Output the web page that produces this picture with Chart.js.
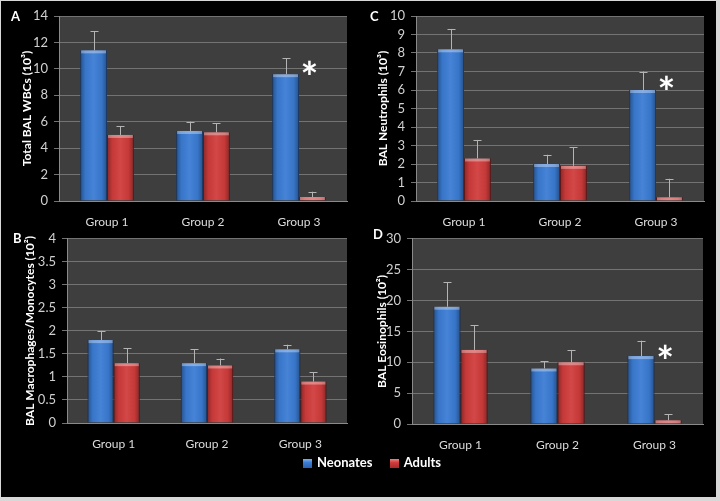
<!DOCTYPE html>
<html>
<head>
<meta charset="utf-8">
<script src="https://cdn.jsdelivr.net/npm/chart.js@4.4.1/dist/chart.umd.min.js"></script>
<style>
    body { margin: 0; background: #d8d8d8; width: 720px; height: 501px; overflow: hidden; }
    #frame { position: absolute; left: 1px; top: 1px; width: 715px; height: 496px; background: #000; }
    .panel { position: absolute; }
    .panel canvas { display: block; }
    .tag { position: absolute; color: #fff; font: bold 13px Lato, sans-serif; }
    #legend { position: absolute; left: 303px; top: 454px; color: #fff; font: bold 13px Lato, sans-serif; white-space: nowrap; }
    #legend .box { display: inline-block; width: 9px; height: 9px; margin-right: 5px; vertical-align: -1px; }
    #legend .item { margin-right: 14px; }
</style>
</head>
<body>
<div id="frame"></div>
<div class="panel" style="left:0;top:0"><canvas id="chartA" width="360" height="228"></canvas><span class="tag" style="left:11px;top:8px">A</span></div>
<div class="panel" style="left:360px;top:0"><canvas id="chartC" width="360" height="228"></canvas><span class="tag" style="left:10px;top:8px">C</span></div>
<div class="panel" style="left:0;top:225px"><canvas id="chartB" width="360" height="230"></canvas><span class="tag" style="left:13px;top:5px">B</span></div>
<div class="panel" style="left:360px;top:225px"><canvas id="chartD" width="360" height="230"></canvas><span class="tag" style="left:13px;top:1px">D</span></div>
<div id="legend">
    <span class="item"><span class="box" style="background:linear-gradient(#7fb0f0,#3b7cd4 40%,#2d62ad)"></span>Neonates</span>
    <span class="item"><span class="box" style="background:linear-gradient(#f08080,#d03c3c 40%,#a82a2a)"></span>Adults</span>
</div>
<script>
document.addEventListener('DOMContentLoaded', function() {
    let groups = ['Group 1', 'Group 2', 'Group 3'];
    let seriesNames = ['Neonates', 'Adults'];

    // A: total WBCs (10^3)
    let wbcNeonates = [11.4, 5.3, 9.6];
    let wbcNeonatesErr = [1.45, 0.7, 1.2];
    let wbcAdults = [5.0, 5.2, 0.3];
    let wbcAdultsErr = [0.65, 0.7, 0.4];
    let wbcStar = [null, null, 10.1];

    // C: neutrophils (10^3)
    let neutNeonates = [8.2, 2.0, 6.0];
    let neutNeonatesErr = [1.1, 0.5, 1.0];
    let neutAdults = [2.3, 1.9, 0.2];
    let neutAdultsErr = [1.0, 1.0, 1.0];
    let neutStar = [null, null, 6.4];

    // B: macrophages/monocytes (10^2)
    let macNeonates = [1.8, 1.3, 1.6];
    let macNeonatesErr = [0.2, 0.3, 0.1];
    let macAdults = [1.3, 1.25, 0.9];
    let macAdultsErr = [0.32, 0.15, 0.2];
    let macStar = [null, null, null];

    // D: eosinophils (10^2)
    let eosNeonates = [19, 9, 11];
    let eosNeonatesErr = [4, 1.2, 2.5];
    let eosAdults = [12, 10, 0.6];
    let eosAdultsErr = [4, 2, 1.0];
    let eosStar = [null, null, 11.8];

    let blue = '#3b7cd4';
    let red = '#d03c3c';

    let plotBackground = {
        id: 'plotBackground',
        beforeDraw: function(chart) {
            let a = chart.chartArea;
            let ctx = chart.ctx;
            ctx.save();
            ctx.fillStyle = '#3e3e3e';
            ctx.fillRect(a.left, a.top, a.right - a.left, a.bottom - a.top);
            ctx.restore();
        }
    };

    // shading on the bars, then error whiskers and the asterisk
    let barExtras = {
        id: 'barExtras',
        afterDatasetsDraw: function(chart) {
            let ctx = chart.ctx;
            let yScale = chart.scales.y;
            ctx.save();
            chart.data.datasets.forEach(function(ds, di) {
                let meta = chart.getDatasetMeta(di);
                meta.data.forEach(function(bar, i) {
                    let x0 = bar.x - bar.width / 2;
                    let h = bar.base - bar.y;
                    let g = ctx.createLinearGradient(x0, 0, x0 + bar.width, 0);
                    g.addColorStop(0, 'rgba(0,0,0,0.35)');
                    g.addColorStop(0.2, 'rgba(0,0,0,0.05)');
                    g.addColorStop(0.5, 'rgba(255,255,255,0.06)');
                    g.addColorStop(0.8, 'rgba(0,0,0,0.05)');
                    g.addColorStop(1, 'rgba(0,0,0,0.35)');
                    ctx.fillStyle = g;
                    ctx.fillRect(x0, bar.y, bar.width, h);
                    if (h > 3) {
                        ctx.fillStyle = 'rgba(255,255,255,0.35)';
                        ctx.fillRect(x0 + 1, bar.y, bar.width - 2, 3);
                    }

                    let top = yScale.getPixelForValue(ds.data[i] + ds.errors[i]);
                    ctx.strokeStyle = '#b4b4b4';
                    ctx.lineWidth = 1;
                    ctx.beginPath();
                    ctx.moveTo(Math.round(bar.x) + 0.5, bar.y);
                    ctx.lineTo(Math.round(bar.x) + 0.5, top);
                    ctx.moveTo(Math.round(bar.x) - 3.5, Math.round(top) + 0.5);
                    ctx.lineTo(Math.round(bar.x) + 4.5, Math.round(top) + 0.5);
                    ctx.stroke();
                });
            });
            let stars = chart.options.plugins.barExtras.stars;
            let adultsMeta = chart.getDatasetMeta(1);
            ctx.fillStyle = '#ffffff';
            ctx.font = 'bold 42px Lato, sans-serif';
            ctx.textAlign = 'center';
            ctx.textBaseline = 'alphabetic';
            stars.forEach(function(v, i) {
                if (v === null) return;
                let m = ctx.measureText('*');
                let cy = yScale.getPixelForValue(v);
                let shift = (m.actualBoundingBoxAscent - m.actualBoundingBoxDescent) / 2;
                ctx.fillText('*', adultsMeta.data[i].x - 3, cy + shift);
            });
            ctx.restore();
        }
    };

    function makeChart(id, cfg) {
        let ctx = document.getElementById(id).getContext('2d');
        let canvas = document.getElementById(id);
        return new Chart(ctx, {
            type: 'bar',
            data: {
                labels: groups,
                datasets: [{
                    label: seriesNames[0],
                    data: cfg.neonates,
                    errors: cfg.neonatesErr,
                    backgroundColor: blue,
                    borderColor: '#2a5694',
                    borderWidth: { left: 1, right: 1, top: 0, bottom: 0 },
                    categoryPercentage: 0.56,
                    barPercentage: 1.0
                }, {
                    label: seriesNames[1],
                    data: cfg.adults,
                    errors: cfg.adultsErr,
                    backgroundColor: red,
                    borderColor: '#902222',
                    borderWidth: { left: 1, right: 1, top: 0, bottom: 0 },
                    categoryPercentage: 0.56,
                    barPercentage: 1.0
                }]
            },
            options: {
                responsive: false,
                animation: false,
                layout: {
                    padding: { left: 0, right: canvas.width - cfg.right, top: cfg.top, bottom: 0 }
                },
                plugins: {
                    legend: { display: false },
                    tooltip: { enabled: false },
                    barExtras: { stars: cfg.stars }
                },
                scales: {
                    x: {
                        grid: { display: false },
                        border: { color: '#8a8a8a' },
                        ticks: { color: '#dcdcdc', font: { family: 'Lato', size: 12 }, padding: 6 },
                        afterFit: function(scale) { scale.height = canvas.height - cfg.bottom; }
                    },
                    y: {
                        min: 0,
                        max: cfg.max,
                        ticks: {
                            stepSize: cfg.step,
                            autoSkip: false,
                            color: '#d0d0d0',
                            font: { family: 'Lato', size: 13 },
                            padding: 6,
                            callback: function(value) { return String(Number(value.toFixed(2))); }
                        },
                        grid: { color: '#737373', tickColor: '#737373', tickLength: 5 },
                        border: { color: '#8a8a8a' },
                        title: {
                            display: true,
                            text: cfg.title,
                            color: '#ffffff',
                            font: { family: 'Lato', size: 12, weight: 'bold' },
                            padding: { top: cfg.titleOffset, bottom: 0 }
                        },
                        afterFit: function(scale) { scale.width = cfg.left; }
                    }
                }
            },
            plugins: [plotBackground, barExtras]
        });
    }

    makeChart('chartA', {
        neonates: wbcNeonates, neonatesErr: wbcNeonatesErr,
        adults: wbcAdults, adultsErr: wbcAdultsErr, stars: wbcStar,
        max: 14, step: 2, title: 'Total BAL WBCs (10³)',
        left: 59, right: 347, top: 16, bottom: 201, titleOffset: 20
    });
    makeChart('chartC', {
        neonates: neutNeonates, neonatesErr: neutNeonatesErr,
        adults: neutAdults, adultsErr: neutAdultsErr, stars: neutStar,
        max: 10, step: 1, title: 'BAL Neutrophils (10³)',
        left: 56, right: 344, top: 16, bottom: 201, titleOffset: 16
    });
    makeChart('chartB', {
        neonates: macNeonates, neonatesErr: macNeonatesErr,
        adults: macAdults, adultsErr: macAdultsErr, stars: macStar,
        max: 4, step: 0.5, title: 'BAL Macrophages/Monocytes (10²)',
        left: 67, right: 347, top: 13, bottom: 198, titleOffset: 23
    });
    makeChart('chartD', {
        neonates: eosNeonates, neonatesErr: eosNeonatesErr,
        adults: eosAdults, adultsErr: eosAdultsErr, stars: eosStar,
        max: 30, step: 5, title: 'BAL Eosinophils (10²)',
        left: 52, right: 343, top: 13, bottom: 199, titleOffset: 15
    });
});
</script>
</body>
</html>
